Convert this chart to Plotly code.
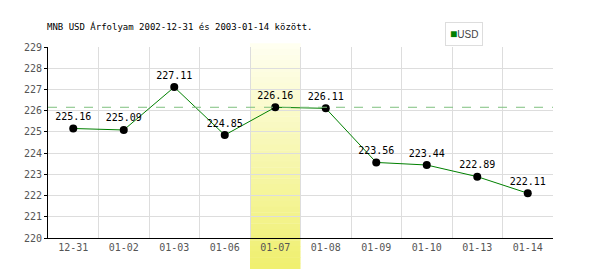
import plotly.graph_objects as go

dates = ["12-31", "01-02", "01-03", "01-06", "01-07", "01-08", "01-09", "01-10", "01-13", "01-14"]
rates = [225.16, 225.09, 227.11, 224.85, 226.16, 226.11, 223.56, 223.44, 222.89, 222.11]
highlight = "01-07"
ref_value = 226.16
title_text = "MNB USD Árfolyam 2002-12-31 és 2003-01-14 között."
series_name = "USD"

mono = "DejaVu Sans Mono"
fig = go.Figure()

# gradient highlight band made of thin stripes
hi = dates.index(highlight)
n = 40
y0, y1 = -0.16, 1.02
for k in range(n):
    t = k / (n - 1)
    r = int(255 + (240 - 255) * t)
    g = int(255 + (240 - 255) * t)
    b = int(240 + (112 - 240) * t)
    fig.add_shape(type="rect", xref="x", yref="paper",
                  x0=hi - 0.5, x1=hi + 0.5,
                  y1=y1 - (y1 - y0) * k / n, y0=y1 - (y1 - y0) * (k + 1) / n - 0.002,
                  fillcolor=f"rgb({r},{g},{b})", line=dict(width=0), layer="below")

fig.add_shape(type="line", xref="paper", yref="y", x0=0, x1=1, y0=ref_value, y1=ref_value,
              line=dict(color="#7fc07f", width=1, dash="dash"), layer="above")

fig.add_trace(go.Scatter(
    x=dates, y=rates, mode="lines+markers+text", name=series_name,
    line=dict(color="#008000", width=1),
    marker=dict(color="black", size=8),
    text=[f"{v:.2f}" for v in rates], textposition="top center",
    textfont=dict(family=mono, size=10, color="black"),
    showlegend=False, cliponaxis=False))

# legend box
fig.add_annotation(xref="paper", yref="paper", x=(445 - 48) / 505, y=(270 - 32 - 22) / 191,
                   xanchor="left", yanchor="top", showarrow=False,
                   text=f"<span style='color:#008000;font-size:12px'>■</span>{series_name}",
                   font=dict(family="Liberation Sans", size=10, color="#444"),
                   bordercolor="#dddddd", borderwidth=1, borderpad=4, bgcolor="white")

fig.update_layout(
    width=600, height=270,
    margin=dict(l=48, r=47, t=47, b=32, autoexpand=False),
    plot_bgcolor="white", paper_bgcolor="white",
    showlegend=False,
    title=dict(text=title_text, x=47 / 600, xanchor="left", y=1 - 27 / 270, yanchor="middle",
               font=dict(family=mono, size=9, color="black")),
    xaxis=dict(type="category", tickson="boundaries", showgrid=True, gridcolor="#dddddd",
               gridwidth=1, showline=True, linecolor="black", linewidth=1,
               ticks="", tickfont=dict(family=mono, size=10, color="#555"),
               range=[-0.5, len(dates) - 0.5], mirror=False),
    yaxis=dict(range=[220, 229], dtick=1, showgrid=True, gridcolor="#dddddd", gridwidth=1,
               showline=True, linecolor="black", linewidth=1, ticks="outside", ticklen=3,
               tickcolor="black", tickfont=dict(family=mono, size=10, color="#555"),
               zeroline=False),
)

fig.write_html("out.html")
